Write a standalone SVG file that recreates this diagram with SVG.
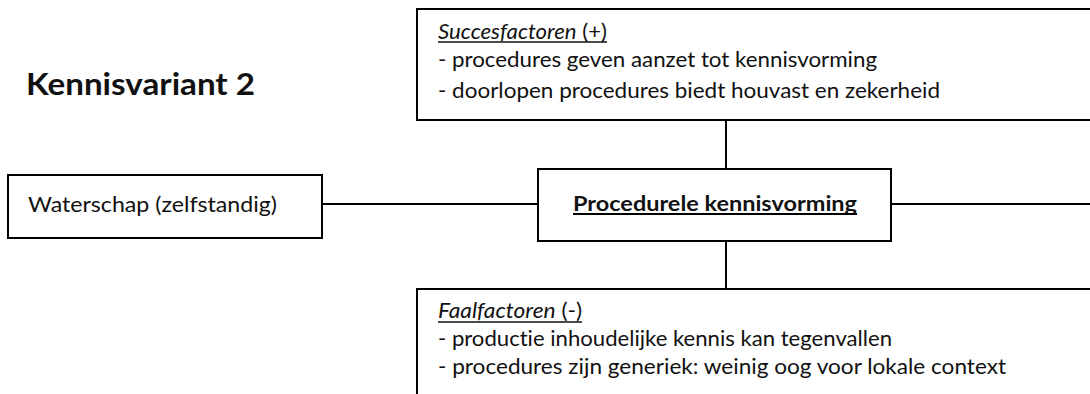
<svg xmlns="http://www.w3.org/2000/svg" width="1090" height="394" viewBox="0 0 1090 394">
  <style>
    .box { fill: #ffffff; stroke: #000000; stroke-width: 2; }
    .wire { stroke: #000000; stroke-width: 2; fill: none; }
    .uline { stroke: #111111; stroke-width: 1.5; }
    .txt { font-family: Lato, "Open Sans", "Liberation Sans", sans-serif; fill: #111111; font-variant-ligatures: none; }
    .body { font-size: 20.5px; }
    .head { font-size: 20.5px; }
    .title { font-size: 30px; font-weight: bold; }
  </style>

  <rect width="1090" height="394" fill="#ffffff"/>

  <text class="txt title" x="26" y="95" textLength="229" lengthAdjust="spacingAndGlyphs">Kennisvariant 2</text>

  <!-- connectors -->
  <g id="connectors">
    <line class="wire" x1="726" y1="120" x2="726" y2="169"/>
    <line class="wire" x1="726" y1="241" x2="726" y2="289"/>
    <line class="wire" x1="322" y1="204" x2="538" y2="204"/>
    <line class="wire" x1="891" y1="204" x2="1092" y2="204"/>
  </g>

  <g id="succesfactoren">
    <rect class="box" x="417" y="9" width="700" height="111"/>
    <text class="txt head" x="438" y="39" textLength="169" lengthAdjust="spacingAndGlyphs"><tspan font-style="italic">Succesfactoren</tspan> (+)</text>
    <line class="uline" x1="438" y1="42" x2="607" y2="42"/>
    <text class="txt body" x="438" y="67" textLength="439" lengthAdjust="spacingAndGlyphs">- procedures geven aanzet tot kennisvorming</text>
    <text class="txt body" x="438" y="98" textLength="502" lengthAdjust="spacingAndGlyphs">- doorlopen procedures biedt houvast en zekerheid</text>
  </g>

  <g id="waterschap">
    <rect class="box" x="8" y="175" width="314" height="63"/>
    <text class="txt body" x="28" y="212" textLength="249" lengthAdjust="spacingAndGlyphs">Waterschap (zelfstandig)</text>
  </g>

  <g id="procedurele-kennisvorming">
    <rect class="box" x="538" y="169" width="353" height="72"/>
    <text class="txt head" x="573" y="211" font-weight="bold" textLength="284" lengthAdjust="spacingAndGlyphs">Procedurele kennisvorming</text>
    <line class="wire" x1="573" y1="214" x2="857" y2="214"/>
  </g>

  <g id="faalfactoren">
    <rect class="box" x="417" y="289" width="700" height="120"/>
    <text class="txt head" x="438" y="318" textLength="144" lengthAdjust="spacingAndGlyphs"><tspan font-style="italic">Faalfactoren</tspan> (-)</text>
    <line class="uline" x1="438" y1="322" x2="582" y2="322"/>
    <text class="txt body" x="438" y="346" textLength="454" lengthAdjust="spacingAndGlyphs">- productie inhoudelijke kennis kan tegenvallen</text>
    <text class="txt body" x="438" y="374" textLength="568" lengthAdjust="spacingAndGlyphs">- procedures zijn generiek: weinig oog voor lokale context</text>
  </g>
</svg>
